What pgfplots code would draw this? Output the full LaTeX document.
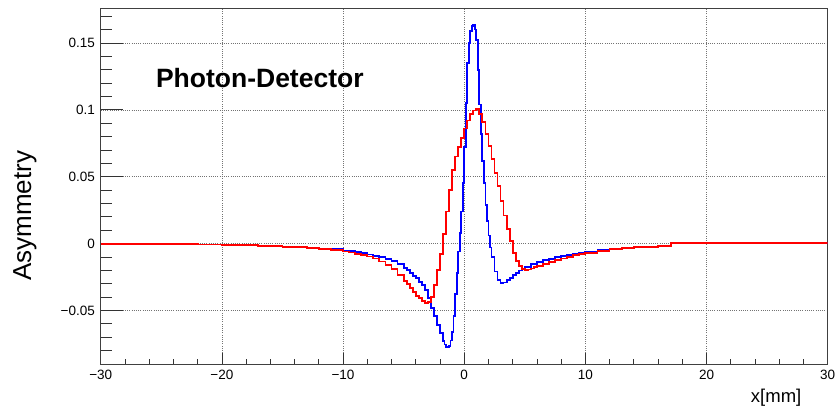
\documentclass[border=0pt]{standalone}
\usepackage{pgfplots}
\pgfplotsset{compat=1.18}
\usepackage{fontspec}
\setmainfont{Liberation Sans}

\pgfplotsset{
  commonaxis/.style={
    at={(100.7pt,48pt)}, anchor=south west,
    scale only axis, width=727pt, height=355.7pt,
    xmin=-30, xmax=30, ymin=-0.0901, ymax=0.1759,
    tick align=inside,
    xtick pos=left, ytick pos=left,
    major grid style={black!55, line width=0.5pt, dash pattern=on 0.8pt off 1.4pt},
    xticklabel style={font=\fontsize{13.5}{16}\selectfont, inner sep=0pt, anchor=north, yshift=-5.5pt},
    yticklabel style={font=\fontsize{13.5}{16}\selectfont, inner sep=0pt, anchor=east, xshift=-5.7pt},
    every tick/.style={black!80, line width=0.7pt},
  }
}

\begin{document}
\begin{tikzpicture}
\useasboundingbox (0,0) rectangle (839pt,412pt);
\begin{axis}[
  commonaxis,
  xtick={-30,-20,-10,0,10,20,30},
  xticklabels={−30,−20,−10,0,10,20,30},
  minor xtick={-28,-26,-24,-22,-18,-16,-14,-12,-8,-6,-4,-2,2,4,6,8,12,14,16,18,22,24,26,28},
  ytick=\empty,
  major tick length=10.7pt, minor tick length=4.7pt,
  xmajorgrids,
  axis line style={draw=none},
  xlabel={x[mm]},
  xlabel style={at={(rel axis cs:0.964,0)}, anchor=base east, yshift=-39pt, inner sep=0pt, font=\fontsize{18.5}{22}\selectfont},
]
\end{axis}
\begin{axis}[
  commonaxis,
  xtick=\empty,
  ytick={-0.05,0,0.05,0.1,0.15},
  yticklabels={−0.05,0,0.05,0.1,0.15},
  minor ytick={-0.08,-0.07,-0.06,-0.04,-0.03,-0.02,-0.01,0.01,0.02,0.03,0.04,0.06,0.07,0.08,0.09,0.11,0.12,0.13,0.14,0.16,0.17},
  major tick length=22.7pt, minor tick length=11.7pt,
  ymajorgrids,
  axis line style={black!75, line width=0.8pt},
  clip=true,
]
\addplot[blue, line width=1.8pt, const plot] table {
x y
-30 -0.0003
-28 -0.0004
-26 -0.0005
-24 -0.0006
-22 -0.0008
-20 -0.0010
-19 -0.0012
-18 -0.0014
-17 -0.0016
-16 -0.0019
-15 -0.0023
-14 -0.0027
-13 -0.0031
-12 -0.0037
-11 -0.0044
-10 -0.0053
-9.5 -0.0058
-9 -0.0065
-8.5 -0.0073
-8 -0.0082
-7.5 -0.0092
-7 -0.0102
-6.5 -0.0115
-6 -0.0132
-5.5 -0.0155
-5 -0.0185
-4.75 -0.0200
-4.5 -0.0220
-4.25 -0.0240
-4 -0.0260
-3.75 -0.0285
-3.5 -0.0310
-3.25 -0.0350
-3 -0.0410
-2.75 -0.0480
-2.5 -0.0540
-2.25 -0.0610
-2 -0.0670
-1.75 -0.0730
-1.625 -0.0755
-1.5 -0.0772
-1.375 -0.0778
-1.25 -0.0765
-1.125 -0.0725
-1.0 -0.0660
-0.875 -0.0540
-0.75 -0.0380
-0.625 -0.0220
-0.5 -0.0060
-0.375 0.0080
-0.25 0.0240
-0.125 0.0450
0 0.0720
0.125 0.1050
0.25 0.1350
0.375 0.1500
0.5 0.1590
0.625 0.1625
0.75 0.1635
0.875 0.1600
1.0 0.1520
1.125 0.1300
1.25 0.1040
1.375 0.0820
1.5 0.0620
1.625 0.0450
1.75 0.0290
1.875 0.0170
2.0 0.0060
2.125 -0.0030
2.25 -0.0100
2.5 -0.0210
2.75 -0.0275
3.0 -0.0298
3.25 -0.0292
3.5 -0.0275
3.75 -0.0255
4.0 -0.0235
4.25 -0.0218
4.5 -0.0202
4.75 -0.0188
5.0 -0.0175
5.5 -0.0155
6 -0.0138
6.5 -0.0125
7 -0.0113
7.5 -0.0102
8 -0.0092
8.5 -0.0083
9 -0.0075
9.5 -0.0068
10 -0.0061
11 -0.0050
12 -0.0041
13 -0.0034
14 -0.0028
15 -0.0023
16 -0.0019
17 -0.0015
17.1 0.0004
30 0.0004
};
\addplot[red, line width=1.8pt, const plot] table {
x y
-30 -0.0002
-28 -0.0003
-26 -0.0005
-24 -0.0006
-22 -0.0008
-20 -0.0010
-19 -0.0012
-18 -0.0014
-17 -0.0016
-16 -0.0020
-15 -0.0024
-14 -0.0029
-13 -0.0034
-12 -0.0040
-11 -0.0048
-10 -0.0060
-9.5 -0.0067
-9 -0.0076
-8.5 -0.0086
-8 -0.0097
-7.5 -0.0112
-7 -0.0135
-6.5 -0.0160
-6 -0.0190
-5.5 -0.0235
-5 -0.0280
-4.75 -0.0305
-4.5 -0.0330
-4.25 -0.0360
-4 -0.0390
-3.75 -0.0410
-3.5 -0.0432
-3.25 -0.0442
-3 -0.0440
-2.75 -0.0400
-2.5 -0.0310
-2.25 -0.0200
-2 -0.0080
-1.75 0.0070
-1.5 0.0240
-1.25 0.0400
-1 0.0550
-0.75 0.0650
-0.5 0.0720
-0.25 0.0790
0 0.0860
0.25 0.0920
0.5 0.0970
0.75 0.0995
1.0 0.1003
1.25 0.0970
1.5 0.0910
1.75 0.0820
2.0 0.0730
2.25 0.0630
2.5 0.0530
2.75 0.0430
3.0 0.0320
3.25 0.0210
3.5 0.0110
3.75 0.0020
4.0 -0.0070
4.25 -0.0130
4.5 -0.0170
4.75 -0.0190
5.0 -0.0197
5.25 -0.0195
5.5 -0.0187
5.75 -0.0178
6 -0.0170
6.5 -0.0153
7 -0.0138
7.5 -0.0124
8 -0.0112
8.5 -0.0100
9 -0.0088
9.5 -0.0078
10 -0.0068
11 -0.0054
12 -0.0044
13 -0.0036
14 -0.0029
15 -0.0024
16 -0.0019
17 -0.0016
17.1 0.0004
30 0.0004
};
\node[anchor=base west, inner sep=0pt, font=\bfseries\fontsize{26.5}{30}\selectfont] at (axis cs:-25.45,0.1165) {Photon-Detector};
\end{axis}
\node[rotate=90, anchor=base, inner sep=0pt, font=\fontsize{26}{30}\selectfont] at (31pt,196pt) {Asymmetry};
\end{tikzpicture}
\end{document}
